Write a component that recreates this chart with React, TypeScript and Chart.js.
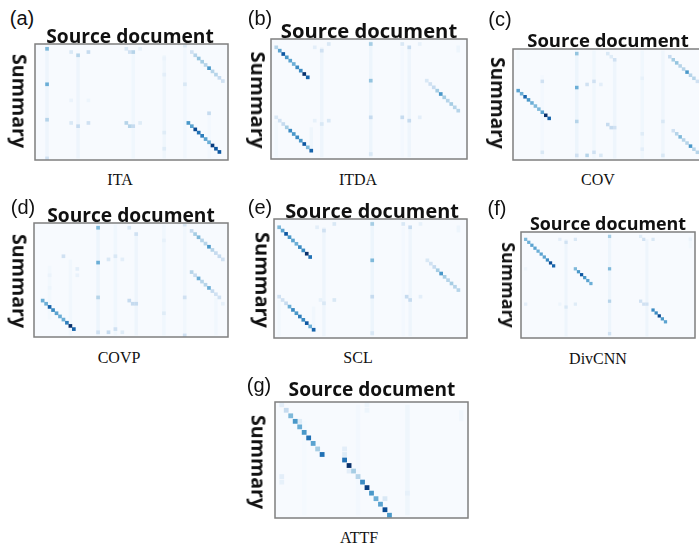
import React, { useEffect, useRef } from "react";
import { Chart, registerables } from "chart.js";

Chart.register(...registerables);

type Cell = [number, number, number];
type Streak = [number, number, number, number];
type Diagonal = { col: number; row: number; values: number[] };

// ---- (a) ITA ----
const itaDiagonals: Diagonal[] = [
  { col: 45, row: 2, values: [0.2, 0.3, 0.4, 0.35, 0.3, 0.6, 0.3, 0.3, 0.25, 0.2] },
  { col: 44, row: 24, values: [0.6, 0.55, 0.9, 0.75, 0.7, 0.55, 0.5, 0.95, 0.85, 0.85] },
];
const itaCells: Cell[] = [
  [3, 1, 0.45], [3, 12, 0.5], [3, 23, 0.3], [3, 35, 0.2],
  [10, 2, 0.15], [12, 3, 0.3], [15, 2, 0.25], [10, 24, 0.15], [12, 25, 0.25], [15, 24, 0.2],
  [26, 1, 0.15], [27, 2, 0.2], [28, 2, 0.3], [30, 1, 0.08],
  [26, 24, 0.3], [27, 25, 0.3], [28, 25, 0.25], [30, 24, 0.12],
  [43, 0, 0.12], [43, 12, 0.15], [50, 21, 0.25], [37, 9, 0.1], [37, 27, 0.12], [37, 32, 0.12], [37, 4, 0.06],
  [10, 17, 0.06], [15, 17, 0.05],
];
const itaStreaks: Streak[] = [
  [3, 0, 35, 0.045], [12, 3, 35, 0.045], [28, 2, 35, 0.035], [37, 3, 35, 0.04], [43, 0, 35, 0.03], [50, 21, 35, 0.02],
];

// ---- (b) ITDA ----
const itdaDiagonals: Diagonal[] = [
  { col: 1, row: 2, values: [0.3, 0.55, 0.85, 0.6, 0.55, 0.5, 0.65, 0.65, 1, 0.8] },
  { col: 1, row: 23, values: [0.15, 0.2, 0.25, 0.35, 0.65, 0.6, 0.65, 0.6, 0.85, 0.45, 0.8] },
  { col: 44, row: 12, values: [0.15, 0.2, 0.25, 0.35, 0.6, 0.35, 0.3, 0.35, 0.3, 0.3] },
];
const itdaCells: Cell[] = [
  [28, 1, 0.35], [28, 12, 0.4], [28, 23, 0.25], [28, 34, 0.15],
  [12, 2, 0.1], [14, 3, 0.2], [16, 1, 0.15], [14, 25, 0.15], [12, 24, 0.08], [16, 24, 0.15],
  [37, 1, 0.15], [39, 2, 0.25], [42, 1, 0.08], [37, 23, 0.25], [39, 24, 0.25], [42, 23, 0.1],
  [53, 2, 0.05], [53, 3, 0.05],
];
const itdaStreaks: Streak[] = [
  [28, 0, 35, 0.05], [14, 2, 35, 0.045], [39, 2, 35, 0.045], [37, 2, 35, 0.02], [11, 26, 33, 0.04], [1, 24, 35, 0.025],
];

// ---- (c) COV ----
const covDiagonals: Diagonal[] = [
  { col: 1, row: 13, values: [0.55, 0.5, 0.8, 0.6, 0.5, 0.45, 0.45, 0.55, 1, 0.8] },
  { col: 45, row: 2, values: [0.25, 0.35, 0.4, 0.3, 0.3, 0.6, 0.3, 0.3, 0.2, 0.15] },
  { col: 46, row: 26, values: [0.2, 0.3, 0.45, 0.3, 0.3, 0.6, 0.3, 0.3, 0.2] },
];
const covCells: Cell[] = [
  [18, 1, 0.4], [18, 12, 0.5], [18, 23, 0.3], [18, 34, 0.2],
  [8, 10, 0.2], [8, 33, 0.15],
  [21, 11, 0.2], [23, 10, 0.2], [25, 11, 0.1], [21, 34, 0.3], [23, 33, 0.2], [25, 34, 0.15],
  [27, 1, 0.15], [28, 2, 0.12], [29, 3, 0.2], [27, 24, 0.25], [28, 25, 0.25], [29, 25, 0.2],
  [43, 23, 0.15], [43, 34, 0.15], [37, 9, 0.08], [37, 27, 0.12], [37, 32, 0.1],
];
const covStreaks: Streak[] = [
  [18, 0, 35, 0.05], [23, 0, 35, 0.035], [29, 3, 35, 0.045], [37, 0, 35, 0.035], [43, 0, 35, 0.04], [8, 8, 35, 0.02], [1, 0, 3, 0.025],
];

// ---- (d) COVP ----
const covpDiagonals: Diagonal[] = [
  { col: 2, row: 24, values: [0.5, 0.5, 0.8, 0.65, 0.55, 0.5, 0.5, 0.7, 1, 0.8] },
  { col: 45, row: 2, values: [0.25, 0.35, 0.45, 0.3, 0.3, 0.6, 0.3, 0.25, 0.25, 0.2] },
  { col: 45, row: 15, values: [0.3, 0.25, 0.5, 0.3, 0.3, 0.5, 0.25, 0.2, 0.2] },
];
const covpCells: Cell[] = [
  [18, 1, 0.45], [18, 12, 0.5], [18, 23, 0.3], [18, 34, 0.2],
  [8, 10, 0.2], [12, 14, 0.1], [12, 16, 0.07], [4, 16, 0.06], [4, 20, 0.05],
  [21, 11, 0.15], [23, 10, 0.15], [25, 11, 0.1], [21, 34, 0.25], [23, 33, 0.2], [25, 34, 0.12],
  [27, 1, 0.15], [29, 3, 0.2], [27, 24, 0.25], [28, 25, 0.25], [29, 25, 0.25],
  [43, 0, 0.15], [43, 23, 0.2], [43, 35, 0.2], [37, 5, 0.08], [37, 28, 0.12], [54, 25, 0.08],
];
const covpStreaks: Streak[] = [
  [4, 13, 30, 0.025], [10, 11, 35, 0.03], [18, 0, 35, 0.05], [23, 0, 35, 0.035], [29, 3, 35, 0.045],
  [37, 0, 35, 0.035], [43, 0, 35, 0.03], [52, 23, 35, 0.03],
];

// ---- (e) SCL ----
const sclDiagonals: Diagonal[] = [
  { col: 1, row: 2, values: [0.45, 0.55, 0.85, 0.6, 0.55, 0.5, 0.65, 0.65, 1, 0.75] },
  { col: 1, row: 23, values: [0.2, 0.2, 0.25, 0.5, 0.65, 0.6, 0.7, 0.65, 0.85, 0.5, 0.8] },
  { col: 44, row: 12, values: [0.15, 0.2, 0.25, 0.35, 0.6, 0.35, 0.3, 0.35, 0.3, 0.3] },
];
const sclCells: Cell[] = [
  [28, 1, 0.35], [28, 12, 0.45], [28, 23, 0.25], [28, 34, 0.15],
  [12, 2, 0.1], [14, 3, 0.2], [17, 1, 0.15], [14, 25, 0.15], [13, 24, 0.08], [17, 24, 0.15],
  [37, 1, 0.15], [39, 2, 0.25], [42, 1, 0.08], [38, 23, 0.25], [39, 24, 0.25], [42, 23, 0.1],
  [53, 2, 0.05], [53, 3, 0.05],
];
const sclStreaks: Streak[] = [
  [28, 0, 35, 0.05], [14, 2, 35, 0.045], [39, 2, 35, 0.045], [37, 2, 35, 0.02], [11, 26, 33, 0.03], [1, 24, 35, 0.025],
];

// ---- (f) DivCNN ----
const divcnnDiagonals: Diagonal[] = [
  { col: 1, row: 2, values: [0.45, 0.5, 0.55, 0.55, 0.5, 0.55, 0.55, 0.65, 0.9, 0.8] },
  { col: 17, row: 12, values: [0.45, 0.6, 0.85, 0.6, 0.55, 0.5] },
  { col: 42, row: 26, values: [0.65, 0.65, 0.9, 0.6, 0.55] },
];
const divcnnCells: Cell[] = [
  [28, 1, 0.35], [28, 12, 0.45], [28, 23, 0.3], [28, 34, 0.2],
  [12, 2, 0.1], [14, 3, 0.2], [17, 2, 0.15], [14, 25, 0.15], [17, 24, 0.12], [12, 24, 0.05], [1, 24, 0.1], [1, 12, 0.04],
  [38, 1, 0.12], [39, 2, 0.2], [42, 2, 0.15], [38, 23, 0.2], [39, 24, 0.2], [40, 24, 0.2], [54, 2, 0.06],
];
const divcnnStreaks: Streak[] = [
  [14, 2, 35, 0.045], [28, 0, 35, 0.05], [40, 2, 35, 0.045], [54, 1, 5, 0.025],
];

// ---- (g) ATTF ----
const attfDiagonals: Diagonal[] = [
  { col: 2, row: 1, values: [0.25, 0.45, 0.6, 0.5, 0.6, 0.75, 0.55, 0.35, 0.75] },
  { col: 15, row: 10, values: [0.75, 1, 0.35, 0.3, 0.65, 0.95, 0.6, 0.5, 0.55, 0.9, 0.6] },
];
const attfCells: Cell[] = [
  [1, 0, 0.1], [5, 3, 0.12], [15, 8, 0.1], [15, 9, 0.12], [16, 12, 0.1], [1, 13, 0.1], [1, 14, 0.08],
  [24, 17, 0.15], [29, 16, 0.08], [20, 0, 0.05], [20, 1, 0.05],
];
const attfStreaks: Streak[] = [
  [29, 0, 20, 0.04], [18, 0, 20, 0.02], [41, 1, 3, 0.03], [6, 3, 20, 0.015],
];

// ---- Labels ----
const panelLetters = ["(a)", "(b)", "(c)", "(d)", "(e)", "(f)", "(g)"];
const captions = ["ITA", "ITDA", "COV", "COVP", "SCL", "DivCNN", "ATTF"];
const TITLE = "Source document";
const Y_TITLE = "Summary";

// ---- Layout ----
const frames = [
  { l: 35, t: 44, w: 193, h: 116, cols: 56, rows: 36, r: 2.6 },
  { l: 271, t: 39, w: 196, h: 120, cols: 56, rows: 36, r: 2.6 },
  { l: 513, t: 49, w: 193, h: 111, cols: 56, rows: 36, r: 2.5 },
  { l: 34, t: 223, w: 194, h: 114, cols: 56, rows: 36, r: 2.6 },
  { l: 274, t: 219, w: 193, h: 119, cols: 56, rows: 36, r: 2.6 },
  { l: 521, t: 232, w: 174, h: 106, cols: 56, rows: 36, r: 2.3 },
  { l: 275, t: 402, w: 193, h: 116, cols: 43, rows: 21, r: 3.4 },
];
const letterPos = [[22, 18], [260, 18], [500, 19], [23, 207], [260, 207], [497, 208], [259, 385]];
const titlePos = [[130, 35, 164], [369, 30, 173], [608, 39, 158], [131, 214, 164], [372, 210, 170], [608, 223, 153], [372, 389, 163]];
const summaryPos = [[20, 101, 89], [259, 100, 92], [498, 103, 87], [20, 281, 89], [263, 280, 91], [509, 285, 81], [259, 462, 89]];
const captionPos = [[120, 180], [358, 180], [598, 180], [119, 358], [358, 358], [598, 359], [359, 538]];

const diagonalSets = [itaDiagonals, itdaDiagonals, covDiagonals, covpDiagonals, sclDiagonals, divcnnDiagonals, attfDiagonals];
const cellSets = [itaCells, itdaCells, covCells, covpCells, sclCells, divcnnCells, attfCells];
const streakSets = [itaStreaks, itdaStreaks, covStreaks, covpStreaks, sclStreaks, divcnnStreaks, attfStreaks];

const BLUES = [
  [247, 251, 255], [222, 235, 247], [198, 219, 239], [158, 202, 225], [107, 174, 214],
  [66, 146, 198], [33, 113, 181], [8, 81, 156], [8, 48, 107],
];
function blues(v: number): string {
  const p = Math.min(0.999, Math.max(0, v)) * (BLUES.length - 1);
  const i = Math.floor(p);
  const f = p - i;
  const c = BLUES[i].map((a, k) => Math.round(a + (BLUES[i + 1][k] - a) * f));
  return `rgb(${c[0]},${c[1]},${c[2]})`;
}

const framePlugin = {
  id: "frame",
  beforeDraw(chart: any) {
    const { ctx, chartArea: a } = chart;
    ctx.save();
    ctx.fillStyle = "#f7fafe";
    ctx.fillRect(a.left, a.top, a.right - a.left, a.bottom - a.top);
    ctx.restore();
  },
  afterDraw(chart: any) {
    const { ctx, chartArea: a } = chart;
    ctx.save();
    ctx.strokeStyle = "#7f7f7f";
    ctx.lineWidth = 1.5;
    ctx.strokeRect(a.left, a.top, a.right - a.left, a.bottom - a.top);
    ctx.restore();
  },
};

function Panel({ index }: { index: number }) {
  const ref = useRef<HTMLCanvasElement>(null);
  const f = frames[index];
  useEffect(() => {
    const cells: Cell[] = [...cellSets[index]];
    diagonalSets[index].forEach((d) =>
      d.values.forEach((v, i) => cells.push([d.col + i, d.row + i, v]))
    );
    cells.sort((p, q) => p[2] - q[2]);
    const cellW = f.w / f.cols;
    const streaks = streakSets[index].map((s) => ({
      type: "scatter" as const,
      data: [{ x: s[0], y: s[1] }, { x: s[0], y: s[2] }],
      showLine: true,
      borderColor: blues(s[3]),
      borderWidth: cellW,
      pointRadius: 0,
      order: 2,
    }));
    const chart = new Chart(ref.current!, {
      type: "scatter",
      data: {
        datasets: [
          {
            data: cells.map((c) => ({ x: c[0], y: c[1] })),
            pointStyle: "rect",
            pointRadius: f.r,
            pointBorderWidth: 0,
            pointBackgroundColor: cells.map((c) => blues(c[2])),
            order: 1,
          } as any,
          ...streaks,
        ],
      },
      options: {
        animation: false,
        responsive: false,
        layout: { padding: 1, autoPadding: false },
        plugins: { legend: { display: false }, tooltip: { enabled: false }, title: { display: false } },
        scales: {
          x: { type: "linear", display: false, min: -0.5, max: f.cols - 0.5 },
          y: { type: "linear", display: false, reverse: true, min: -0.5, max: f.rows - 0.5 },
        },
      },
      plugins: [framePlugin],
    });
    return () => chart.destroy();
  }, [index]);
  return (
    <canvas
      ref={ref}
      width={f.w + 2}
      height={f.h + 2}
      style={{ position: "absolute", left: f.l - 1, top: f.t - 1, width: f.w + 2, height: f.h + 2, filter: "blur(0.4px)" }}
    />
  );
}

const centered: React.CSSProperties = { position: "absolute", whiteSpace: "nowrap", lineHeight: 1 };

export default function App() {
  return (
    <div style={{ position: "fixed", left: 0, top: 0, width: 699, height: 547, overflow: "hidden", background: "#fff" }}>
      {frames.map((_, i) => (
        <React.Fragment key={i}>
          <Panel index={i} />
          <span style={{ ...centered, left: letterPos[i][0], top: letterPos[i][1], transform: "translate(-50%,-50%)", font: "20px 'Liberation Sans'", color: "#111" }}>
            {panelLetters[i]}
          </span>
          <span style={{ ...centered, left: titlePos[i][0], top: titlePos[i][1], transform: "translate(-50%,-50%)", font: `700 ${(titlePos[i][2] / 8.55).toFixed(1)}px 'Open Sans'`, color: "#111", filter: "blur(0.3px)" }}>
            {TITLE}
          </span>
          <span style={{ ...centered, left: summaryPos[i][0], top: summaryPos[i][1], transform: "translate(-50%,-50%) rotate(90deg)", font: `700 ${(summaryPos[i][2] / 4.55).toFixed(1)}px 'Open Sans'`, color: "#111", filter: "blur(0.3px)" }}>
            {Y_TITLE}
          </span>
          <span style={{ ...centered, left: captionPos[i][0], top: captionPos[i][1], transform: "translate(-50%,-50%)", font: "16px 'Liberation Serif'", color: "#111" }}>
            {captions[i]}
          </span>
        </React.Fragment>
      ))}
    </div>
  );
}
